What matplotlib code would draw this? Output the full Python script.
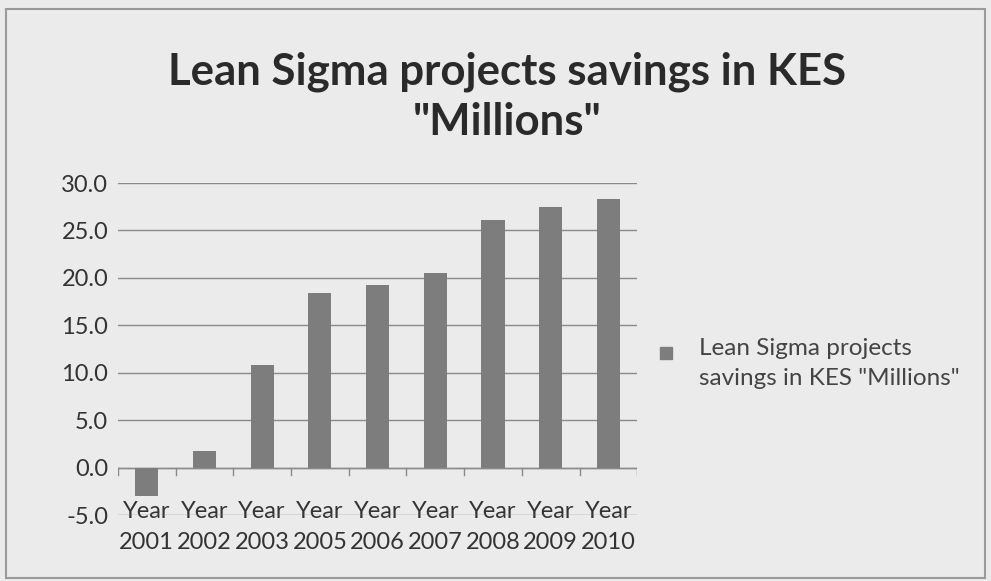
import matplotlib.pyplot as plt
import numpy as np

years = ['Year\n2001', 'Year\n2002', 'Year\n2003', 'Year\n2005', 'Year\n2006',
         'Year\n2007', 'Year\n2008', 'Year\n2009', 'Year\n2010']
savings = [-3.0, 1.8, 10.8, 18.4, 19.3, 20.5, 26.1, 27.5, 28.3]
series_name = 'Lean Sigma projects\nsavings in KES "Millions"'

plt.rcParams['font.family'] = ['Lato', 'DejaVu Sans']

bg = '#ebebeb'
bar_color = '#7d7d7d'
fig = plt.figure(figsize=(9.91, 5.81), dpi=100, facecolor=bg)
ax = fig.add_axes([0.119, 0.113, 0.524, 0.572])
ax.set_facecolor(bg)

x = np.arange(len(years))
ax.bar(x, savings, width=0.4, color=bar_color, zorder=3)

ax.set_xlim(-0.5, len(years) - 0.5)
ax.set_ylim(-5, 30)
ax.set_yticks(np.arange(-5, 31, 5))
ax.set_yticklabels(['%.1f' % v for v in np.arange(-5, 31, 5)], fontsize=17, color='#333333')
ax.yaxis.grid(True, color='#8a8a8a', linewidth=1)
ax.tick_params(axis='y', length=0, pad=7)

# category labels hang just over the bottom gridline, tick marks at category edges
ax.set_xticks(x)
ax.set_xticklabels(years, fontsize=17, color='#333333', linespacing=1.55)
ax.tick_params(axis='x', length=0, pad=-10)
for e in np.arange(-0.5, len(years), 1):
    ax.plot([e, e], [0, -0.8], color='#8a8a8a', linewidth=1, zorder=2)
ax.axhline(0, color='#8a8a8a', linewidth=1, zorder=2)

for s in ax.spines.values():
    s.set_visible(False)

fig.text(0.512, 0.912, 'Lean Sigma projects savings in KES\n"Millions"', ha='center', va='top',
         fontsize=31.5, fontweight='bold', color='#2a2a2a', linespacing=1.3)

# legend drawn like Excel: square next to the first line of the label
fig.patches.append(plt.Rectangle((0.666, 0.382), 0.012, 0.02, transform=fig.transFigure,
                                 color=bar_color))
fig.text(0.705, 0.418, series_name, ha='left', va='top', fontsize=17.5, color='#444444',
         linespacing=1.5)

# outer chart border
fig.patches.append(plt.Rectangle((0.006, 0.006), 0.988, 0.978, transform=fig.transFigure,
                                 fill=False, edgecolor='#9a9a9a', linewidth=1.5))

fig.savefig('out.png', dpi=100, facecolor=bg)
